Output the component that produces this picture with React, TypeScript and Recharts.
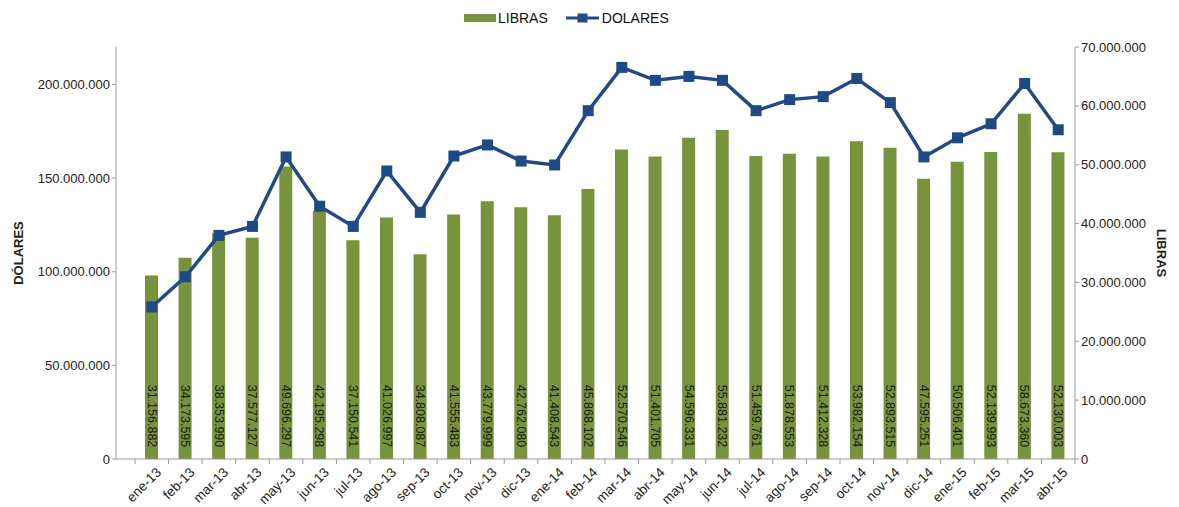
import React from "react";
import {
  ComposedChart,
  Bar,
  Line,
  XAxis,
  YAxis,
  LabelList,
} from "recharts";

const months = [
  "ene-13", "feb-13", "mar-13", "abr-13", "may-13", "jun-13", "jul-13", "ago-13",
  "sep-13", "oct-13", "nov-13", "dic-13", "ene-14", "feb-14", "mar-14", "abr-14",
  "may-14", "jun-14", "jul-14", "ago-14", "sep-14", "oct-14", "nov-14", "dic-14",
  "ene-15", "feb-15", "mar-15", "abr-15",
];

const libras = [
  31156882, 34173595, 38353990, 37577127, 49696297, 42195298, 37150541, 41026997,
  34808087, 41555483, 43779999, 42762080, 41408543, 45868102, 52570546, 51401705,
  54596331, 55881232, 51459761, 51878553, 51412328, 53982154, 52893515, 47595251,
  50506401, 52139993, 58673360, 52130003,
];

// (millions of dollars)
const dolares = [
  81.2, 97.3, 119.4, 124.2, 161.3, 135.0, 124.2, 153.8,
  131.7, 161.8, 167.7, 159.1, 157.0, 186.0, 209.1, 202.2,
  204.3, 202.2, 186.0, 191.9, 193.5, 203.2, 190.3, 161.3,
  171.5, 179.0, 200.5, 175.8,
].map((v) => v * 1000000);

const dolaresTicks = [0, 50000000, 100000000, 150000000, 200000000];
const librasTicks = [0, 10000000, 20000000, 30000000, 40000000, 50000000, 60000000, 70000000];

const GREEN = "#77933C";
const BLUE = "#1F4A86";
const AXIS = "#9a9a9a";
const FONT = "'Liberation Sans', Arial, sans-serif";

const fmt = (n: number) =>
  String(Math.round(n)).replace(/\B(?=(\d{3})+(?!\d))/g, ".");

const data = months.map((m, i) => ({
  month: m,
  libras: libras[i],
  dolares: dolares[i],
}));

// category boundaries get the tick marks, like the original sheet
const MonthTick = (props: any) => {
  const { x, y, payload, index, visibleTicksCount } = props;
  const half = 16.8;
  const axisY = y - 8;
  const last = index === (visibleTicksCount ?? months.length) - 1;
  return (
    <g>
      <line x1={x - half} y1={axisY} x2={x - half} y2={axisY + 5} stroke={AXIS} />
      {last && <line x1={x + half} y1={axisY} x2={x + half} y2={axisY + 5} stroke={AXIS} />}
      <g transform={`translate(${x + 7},${y + 3})`}>
        <text
          x={0}
          y={0}
          textAnchor="end"
          dominantBaseline="central"
          transform="rotate(-45)"
          fontSize={13.5}
          fill="#222"
          fontFamily={FONT}
        >
          {payload.value}
        </text>
      </g>
    </g>
  );
};

const BarValue = (props: any) => {
  const { x, y, width, height, value } = props;
  const cx = x + width / 2;
  const cy = y + height - 43;
  return (
    <text
      x={cx}
      y={cy}
      textAnchor="middle"
      dominantBaseline="central"
      transform={`rotate(90, ${cx}, ${cy})`}
      fontSize={12.5}
      fill="#1a1a1a"
      fontFamily={FONT}
    >
      {fmt(value)}
    </text>
  );
};

const SquareDot = (props: any) => {
  const { cx, cy } = props;
  if (cx == null || cy == null) return null;
  return <rect x={cx - 5.5} y={cy - 5.5} width={11} height={11} fill={BLUE} />;
};

export default function App() {
  return (
    <div style={{ position: "relative", width: 1163, height: 499, fontFamily: FONT }}>
      <div
        style={{
          position: "absolute",
          left: 456,
          top: 2,
          display: "flex",
          alignItems: "center",
          fontSize: 14,
          color: "#111",
          lineHeight: "16px",
        }}
      >
        <span style={{ display: "inline-block", width: 32, height: 8, background: GREEN, marginRight: 2 }} />
        <span>LIBRAS</span>
        <svg width={33} height={12} style={{ marginLeft: 18, marginRight: 3 }}>
          <line x1={0} y1={6} x2={33} y2={6} stroke={BLUE} strokeWidth={3} />
          <rect x={11.5} y={1.5} width={10} height={9} fill={BLUE} />
        </svg>
        <span>DOLARES</span>
      </div>
      <ComposedChart
        width={1163}
        height={499}
        data={data}
        margin={{ top: 39, right: 0, bottom: 0, left: 0 }}
        barSize={13}
      >
        <XAxis
          dataKey="month"
          interval={0}
          height={48}
          padding={{ left: 19, right: 0 }}
          tick={<MonthTick />}
          tickLine={false}
          axisLine={{ stroke: AXIS }}
        />
        <YAxis
          yAxisId="left"
          orientation="left"
          width={108}
          domain={[0, 220000000]}
          ticks={dolaresTicks}
          tickFormatter={fmt}
          tick={{ fontSize: 13, fill: "#222", fontFamily: FONT }}
          tickLine={{ stroke: AXIS }}
          tickSize={4}
          axisLine={{ stroke: AXIS }}
          label={{
            value: "DÓLARES",
            angle: -90,
            position: "insideLeft",
            offset: 10,
            style: { fontSize: 13, fontWeight: "bold", fill: "#222", fontFamily: FONT, textAnchor: "middle" },
          }}
        />
        <YAxis
          yAxisId="right"
          orientation="right"
          width={96}
          domain={[0, 70000000]}
          ticks={librasTicks}
          tickFormatter={fmt}
          tick={{ fontSize: 13, fill: "#222", fontFamily: FONT }}
          tickLine={{ stroke: AXIS }}
          tickSize={4}
          axisLine={{ stroke: AXIS }}
          label={{
            value: "LIBRAS",
            angle: 90,
            position: "insideRight",
            offset: 9,
            style: { fontSize: 13, fontWeight: "bold", fill: "#222", fontFamily: FONT, textAnchor: "middle" },
          }}
        />
        <Bar yAxisId="right" dataKey="libras" fill={GREEN} isAnimationActive={false}>
          <LabelList dataKey="libras" content={<BarValue />} />
        </Bar>
        <Line
          yAxisId="left"
          type="linear"
          dataKey="dolares"
          stroke={BLUE}
          strokeWidth={3.5}
          dot={<SquareDot />}
          activeDot={false}
          isAnimationActive={false}
        />
      </ComposedChart>
    </div>
  );
}
